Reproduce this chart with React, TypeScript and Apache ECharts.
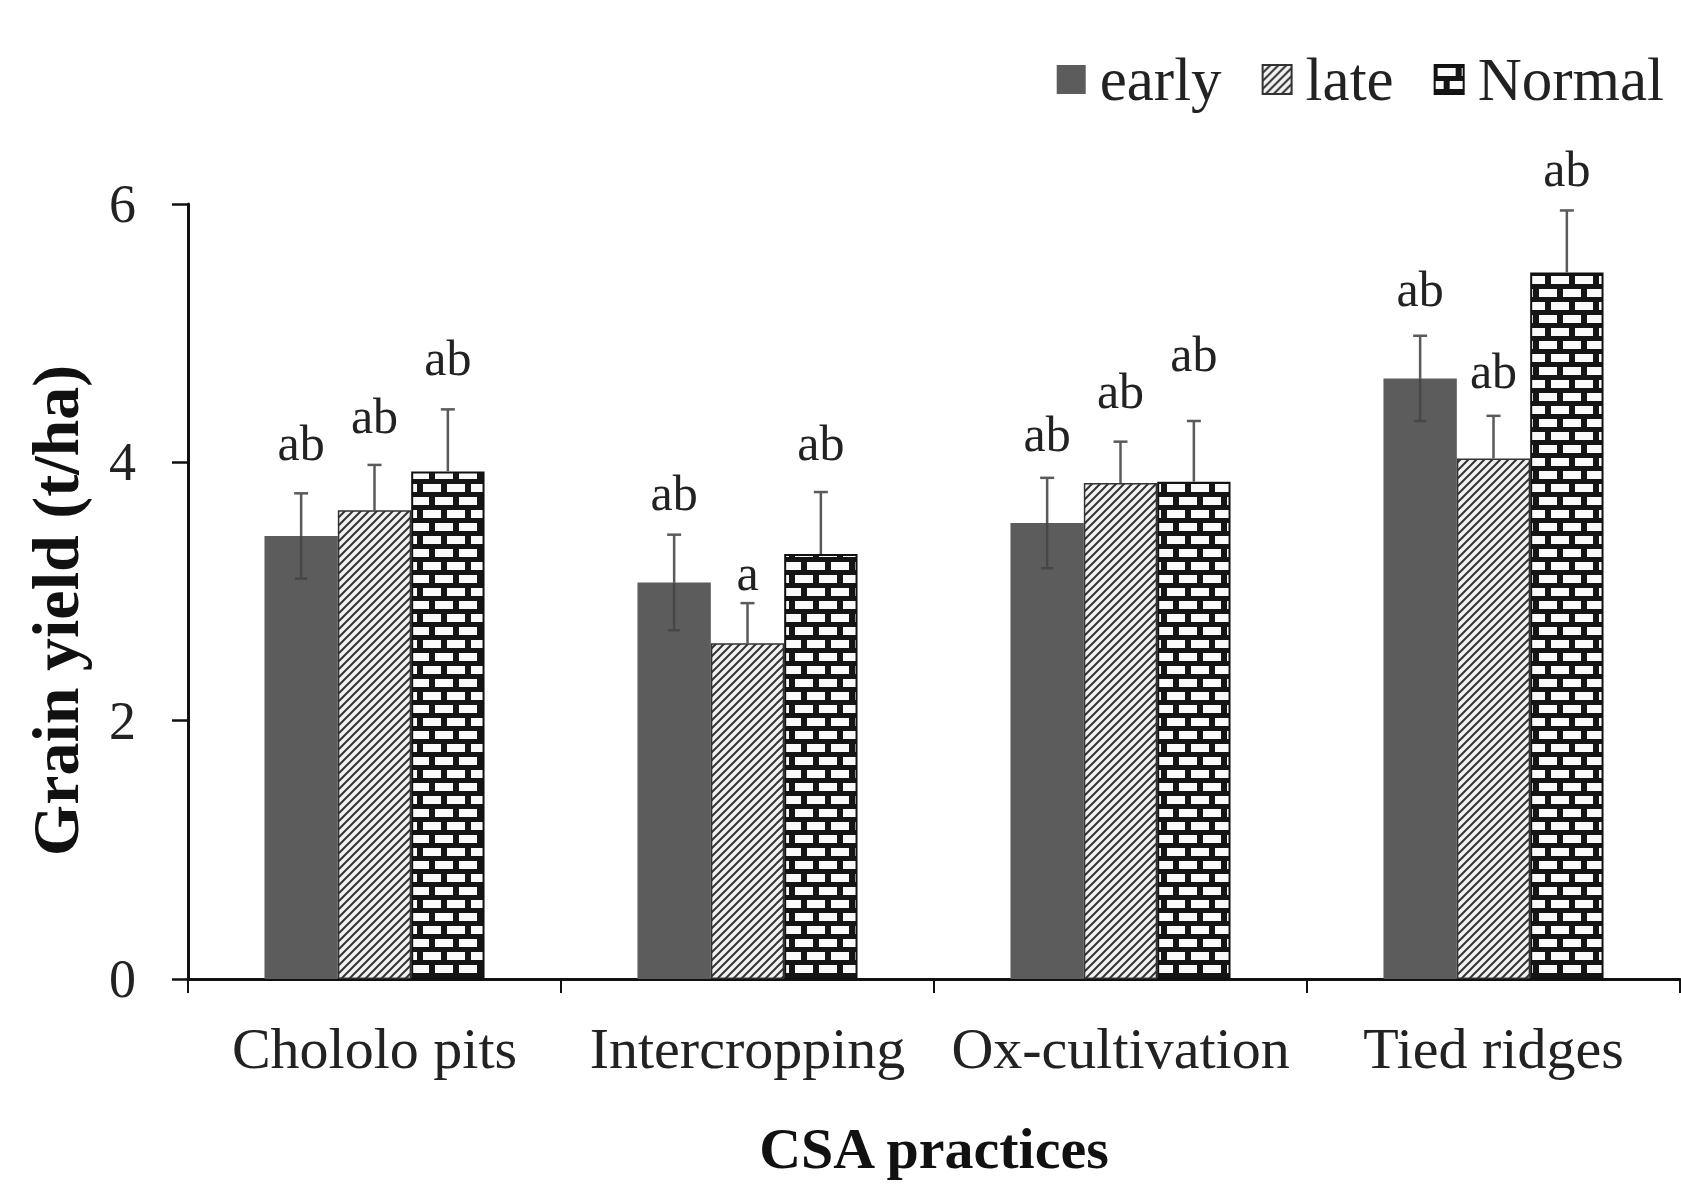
import React, { useEffect, useRef } from "react";
import * as echarts from "echarts";

const categories = ["Chololo pits", "Intercropping", "Ox-cultivation", "Tied ridges"];
const seriesNames = ["early", "late", "Normal"];
const earlyMeans = [3.43, 3.07, 3.53, 4.65];
const lateMeans = [3.63, 2.6, 3.84, 4.03];
const normalMeans = [3.93, 3.29, 3.85, 5.47];
const earlyErr = [0.33, 0.37, 0.35, 0.33];
const lateErr = [0.35, 0.31, 0.32, 0.33];
const normalErr = [0.48, 0.48, 0.47, 0.48];
const earlyLetters = ["ab", "ab", "ab", "ab"];
const lateLetters = ["ab", "a", "ab", "ab"];
const normalLetters = ["ab", "ab", "ab", "ab"];
const earlyLetterY = [4.15, 3.76, 4.22, 5.34];
const lateLetterY = [4.36, 3.14, 4.55, 4.71];
const normalLetterY = [4.81, 4.15, 4.84, 6.27];
const yMin = 0;
const yMax = 6;
const yInterval = 2;

const FONT = "'Liberation Serif', 'Times New Roman', serif";
const CAT_GAP = 0.41;

function hatchCanvas() {
  const c = document.createElement("canvas");
  c.width = 8;
  c.height = 8;
  const g = c.getContext("2d")!;
  g.fillStyle = "#f2f2f2";
  g.fillRect(0, 0, 8, 8);
  g.strokeStyle = "#333";
  g.lineWidth = 2;
  g.beginPath();
  g.moveTo(-1, 9);
  g.lineTo(9, -1);
  g.moveTo(-5, 5);
  g.lineTo(5, -5);
  g.moveTo(3, 13);
  g.lineTo(13, 3);
  g.stroke();
  return c;
}

function brickCanvas() {
  const c = document.createElement("canvas");
  c.width = 24;
  c.height = 26;
  const g = c.getContext("2d")!;
  g.fillStyle = "#151515";
  g.fillRect(0, 0, 24, 26);
  g.fillStyle = "#fafafa";
  g.fillRect(3, 3, 18, 8);
  g.fillRect(15, 16, 9, 8);
  g.fillRect(0, 16, 9, 8);
  return c;
}

function errSeries(idx: number, means: number[], errs: number[], ly: number[], letters: string[], showLower: boolean) {
  return {
    type: "custom",
    name: seriesNames[idx] + " err",
    z: 10,
    clip: false,
    encode: { x: 0, y: 1 },
    data: means.map((m, i) => [i, m, errs[i], ly[i]]),
    renderItem: (params: any, api: any) => {
      const cat = api.value(0);
      const mean = api.value(1);
      const err = api.value(2);
      const lyv = api.value(3);
      const band = api.size([1, 0])[0];
      const barW = (band * (1 - CAT_GAP)) / 3;
      const c = api.coord([cat, mean]);
      const x = c[0] + (idx - 1) * barW;
      const top = api.coord([cat, mean + err])[1];
      const bot = api.coord([cat, mean - err])[1];
      const lp = api.coord([cat, lyv])[1];
      const stroke = "#5a5a5a";
      const children: any[] = [
        { type: "line", shape: { x1: x, y1: c[1], x2: x, y2: top }, style: { stroke, lineWidth: 2.5 } },
        { type: "line", shape: { x1: x - 7, y1: top, x2: x + 7, y2: top }, style: { stroke, lineWidth: 2.5 } },
        {
          type: "text",
          x,
          y: lp,
          style: {
            text: letters[params.dataIndex],
            fontFamily: FONT,
            fontSize: 50,
            fill: "#222",
            align: "center",
            verticalAlign: "middle",
          },
        },
      ];
      if (showLower) {
        children.push(
          { type: "line", shape: { x1: x, y1: c[1], x2: x, y2: bot }, style: { stroke: "#474747", lineWidth: 2.5 } },
          { type: "line", shape: { x1: x - 6, y1: bot, x2: x + 6, y2: bot }, style: { stroke: "#474747", lineWidth: 2.5 } }
        );
      }
      return { type: "group", children };
    },
  };
}

export default function App() {
  const ref = useRef<HTMLDivElement>(null);
  useEffect(() => {
    if (!ref.current) return;
    const chart = echarts.init(ref.current, null, { renderer: "svg" });
    const hatch = { image: hatchCanvas(), repeat: "repeat" };
    const brick = { image: brickCanvas(), repeat: "repeat" };
    chart.setOption({
      animation: false,
      backgroundColor: "#ffffff",
      textStyle: { fontFamily: FONT },
      legend: {
        data: seriesNames,
        right: 12,
        top: 44,
        icon: "rect",
        itemWidth: 29,
        itemHeight: 29,
        itemGap: 40,
        textStyle: { fontFamily: FONT, fontSize: 61, color: "#222", padding: [0, 0, 0, 9] },
      },
      grid: { left: 188, right: 1, top: 204, bottom: 212, containLabel: false },
      xAxis: {
        type: "category",
        data: categories,
        name: "CSA practices",
        nameLocation: "middle",
        nameGap: 140,
        nameTextStyle: { fontFamily: FONT, fontSize: 58, fontWeight: "bold", color: "#111" },
        axisLine: { show: true, lineStyle: { color: "#111", width: 3 } },
        axisTick: { show: true, interval: 0, length: 14, lineStyle: { color: "#111", width: 2 } },
        axisLabel: { interval: 0, fontFamily: FONT, fontSize: 58, color: "#222", margin: 40 },
        splitLine: { show: false },
      },
      yAxis: {
        type: "value",
        min: yMin,
        max: yMax,
        interval: yInterval,
        name: "Grain yield (t/ha)",
        nameLocation: "middle",
        nameRotate: 90,
        nameGap: 100,
        nameTextStyle: {
          fontFamily: FONT,
          fontSize: 66,
          fontWeight: "bold",
          color: "#111",
          padding: [0, 38, 0, 0],
        },
        axisLine: { show: true, lineStyle: { color: "#111", width: 3 } },
        axisTick: { show: true, length: 16, lineStyle: { color: "#111", width: 2.5 } },
        axisLabel: { fontFamily: FONT, fontSize: 54, color: "#222", margin: 52 },
        splitLine: { show: false },
      },
      series: [
        {
          type: "bar",
          name: "early",
          data: earlyMeans,
          barGap: "0%",
          barCategoryGap: "41%",
          itemStyle: { color: "#5c5c5c" },
        },
        {
          type: "bar",
          name: "late",
          data: lateMeans,
          barGap: "0%",
          barCategoryGap: "41%",
          itemStyle: { color: hatch, borderColor: "#333", borderWidth: 1.5 },
        },
        {
          type: "bar",
          name: "Normal",
          data: normalMeans,
          barGap: "0%",
          barCategoryGap: "41%",
          itemStyle: { color: brick, borderColor: "#111", borderWidth: 2 },
        },
        errSeries(0, earlyMeans, earlyErr, earlyLetterY, earlyLetters, true),
        errSeries(1, lateMeans, lateErr, lateLetterY, lateLetters, false),
        errSeries(2, normalMeans, normalErr, normalLetterY, normalLetters, false),
      ],
    });
    return () => chart.dispose();
  }, []);
  return (
    <div
      ref={ref}
      style={{ position: "fixed", left: 0, top: 0, width: 1681, height: 1191, background: "#fff" }}
    />
  );
}
